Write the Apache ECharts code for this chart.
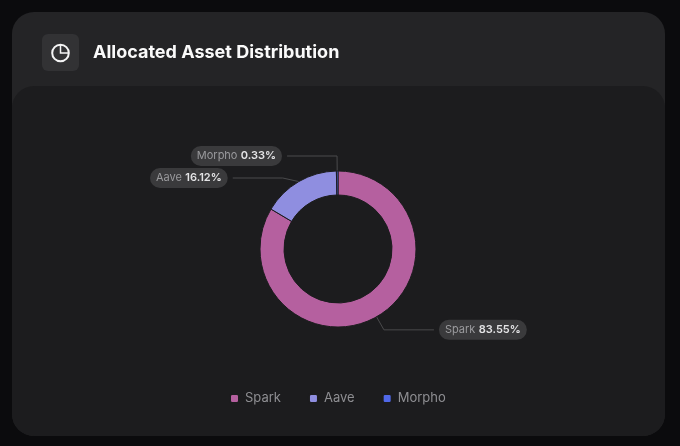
<!DOCTYPE html>
<html><head><meta charset="utf-8">
<script src="https://cdn.jsdelivr.net/npm/echarts@6/dist/echarts.min.js"></script>
<style>html,body{margin:0;padding:0;background:#0b0b0d;overflow:hidden}#c{width:680px;height:446px}</style>
</head><body><div id="c"></div>
<script>
const titleText = 'Allocated Asset Distribution';
const categories = ['Spark', 'Aave', 'Morpho'];
const values = [83.55, 16.12, 0.33];
const colors = ['#b5609f', '#8f8ee0', '#5068e8'];
const chart = echarts.init(document.getElementById('c'));
chart.setOption({
  backgroundColor: '#0b0b0d',
  animation: false,
  title: { text: titleText, left: 93, top: 44, padding: 0, textStyle: { color: '#fafafa', fontFamily: 'Inter', fontSize: 18, fontWeight: 700 } },
  graphic: [
    { type: 'rect', z: -10, shape: { x: 12, y: 12, width: 653, height: 424, r: 22 }, style: { fill: '#242426' } },
    { type: 'rect', z: -9, shape: { x: 12, y: 86, width: 653, height: 350, r: 22 }, style: { fill: '#1c1c1e' } },
    { type: 'rect', z: -8, shape: { x: 42, y: 34, width: 37, height: 37, r: 6 }, style: { fill: '#323234' } },
    { type: 'circle', z: -7, shape: { cx: 60.5, cy: 53, r: 8.3 }, style: { fill: 'none', stroke: '#f5f5f5', lineWidth: 2 } },
    { type: 'polyline', z: -7, shape: { points: [[60.5, 45], [60.5, 53], [68.5, 53]] }, style: { fill: 'none', stroke: '#f5f5f5', lineWidth: 1.5 } }
  ],
  legend: {
    data: categories, left: 229, top: 392, padding: 0, itemWidth: 9, itemHeight: 9, itemGap: 27, icon: 'roundRect',
    textStyle: { color: '#8e8e92', fontFamily: 'Inter', fontSize: 13, padding: [0, 0, 2, 1] }
  },
  series: [{
    type: 'pie', center: [338, 249], radius: [54, 78], startAngle: 90, clockwise: true,
    color: colors,
    data: categories.map((n, i) => ({ name: n, value: values[i] })),
    avoidLabelOverlap: true,
    itemStyle: { borderColor: '#1c1c1e', borderWidth: 1 },
    label: {
      formatter: p => `{n|${p.name}} {v|${p.value.toFixed(2)}%}`,
      backgroundColor: '#3a3a3c', borderRadius: 10, padding: [4, 6],
      rich: {
        n: { color: '#9a9a9d', fontFamily: 'Inter', fontSize: 11 },
        v: { color: '#e4e4e6', fontFamily: 'Inter', fontSize: 11, fontWeight: 600 }
      }
    },
    labelLine: { show: true, length: 15, length2: 50, smooth: false, lineStyle: { color: '#4a4a4c', width: 1 } }
  }]
});
</script></body></html>
